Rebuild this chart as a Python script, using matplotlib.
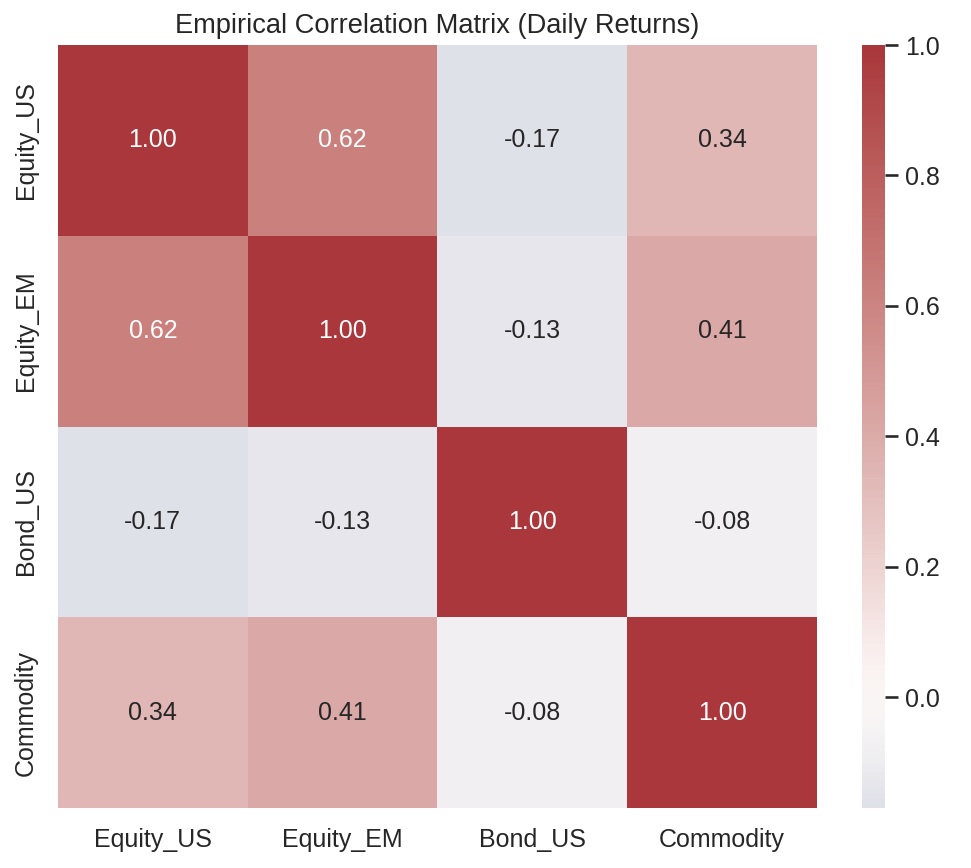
import numpy as np
import pandas as pd
import matplotlib
matplotlib.use("Agg")
import matplotlib.pyplot as plt
import seaborn as sns

# Dati della matrice di correlazione
assets = ["Equity_US", "Equity_EM", "Bond_US", "Commodity"]
row_equity_us = [1.00, 0.62, -0.17, 0.34]
row_equity_em = [0.62, 1.00, -0.13, 0.41]
row_bond_us = [-0.17, -0.13, 1.00, -0.08]
row_commodity = [0.34, 0.41, -0.08, 1.00]

corr = pd.DataFrame([row_equity_us, row_equity_em, row_bond_us, row_commodity],
                    index=assets, columns=assets)

sns.set_theme(style="white")
plt.rcParams['font.family'] = ['Liberation Sans', 'DejaVu Sans']

dpi = 150
fig = plt.figure(figsize=(971 / dpi, 868 / dpi), dpi=dpi)
ax = fig.add_axes([0.0597, 0.0691, 0.7817, 0.8790])
cax = fig.add_axes([0.8877, 0.0691, 0.0237, 0.8790])

sns.heatmap(corr, ax=ax, cbar_ax=cax, cmap="vlag", center=0,
            annot=True, fmt=".2f", annot_kws={"size": 12})

ax.set_title("Empirical Correlation Matrix (Daily Returns)", fontsize=13.1)
ax.tick_params(axis="both", labelsize=12)
cax.tick_params(labelsize=12, length=6, width=1.25, color="#262626")

plt.savefig("out.png", dpi=dpi)
plt.close()
